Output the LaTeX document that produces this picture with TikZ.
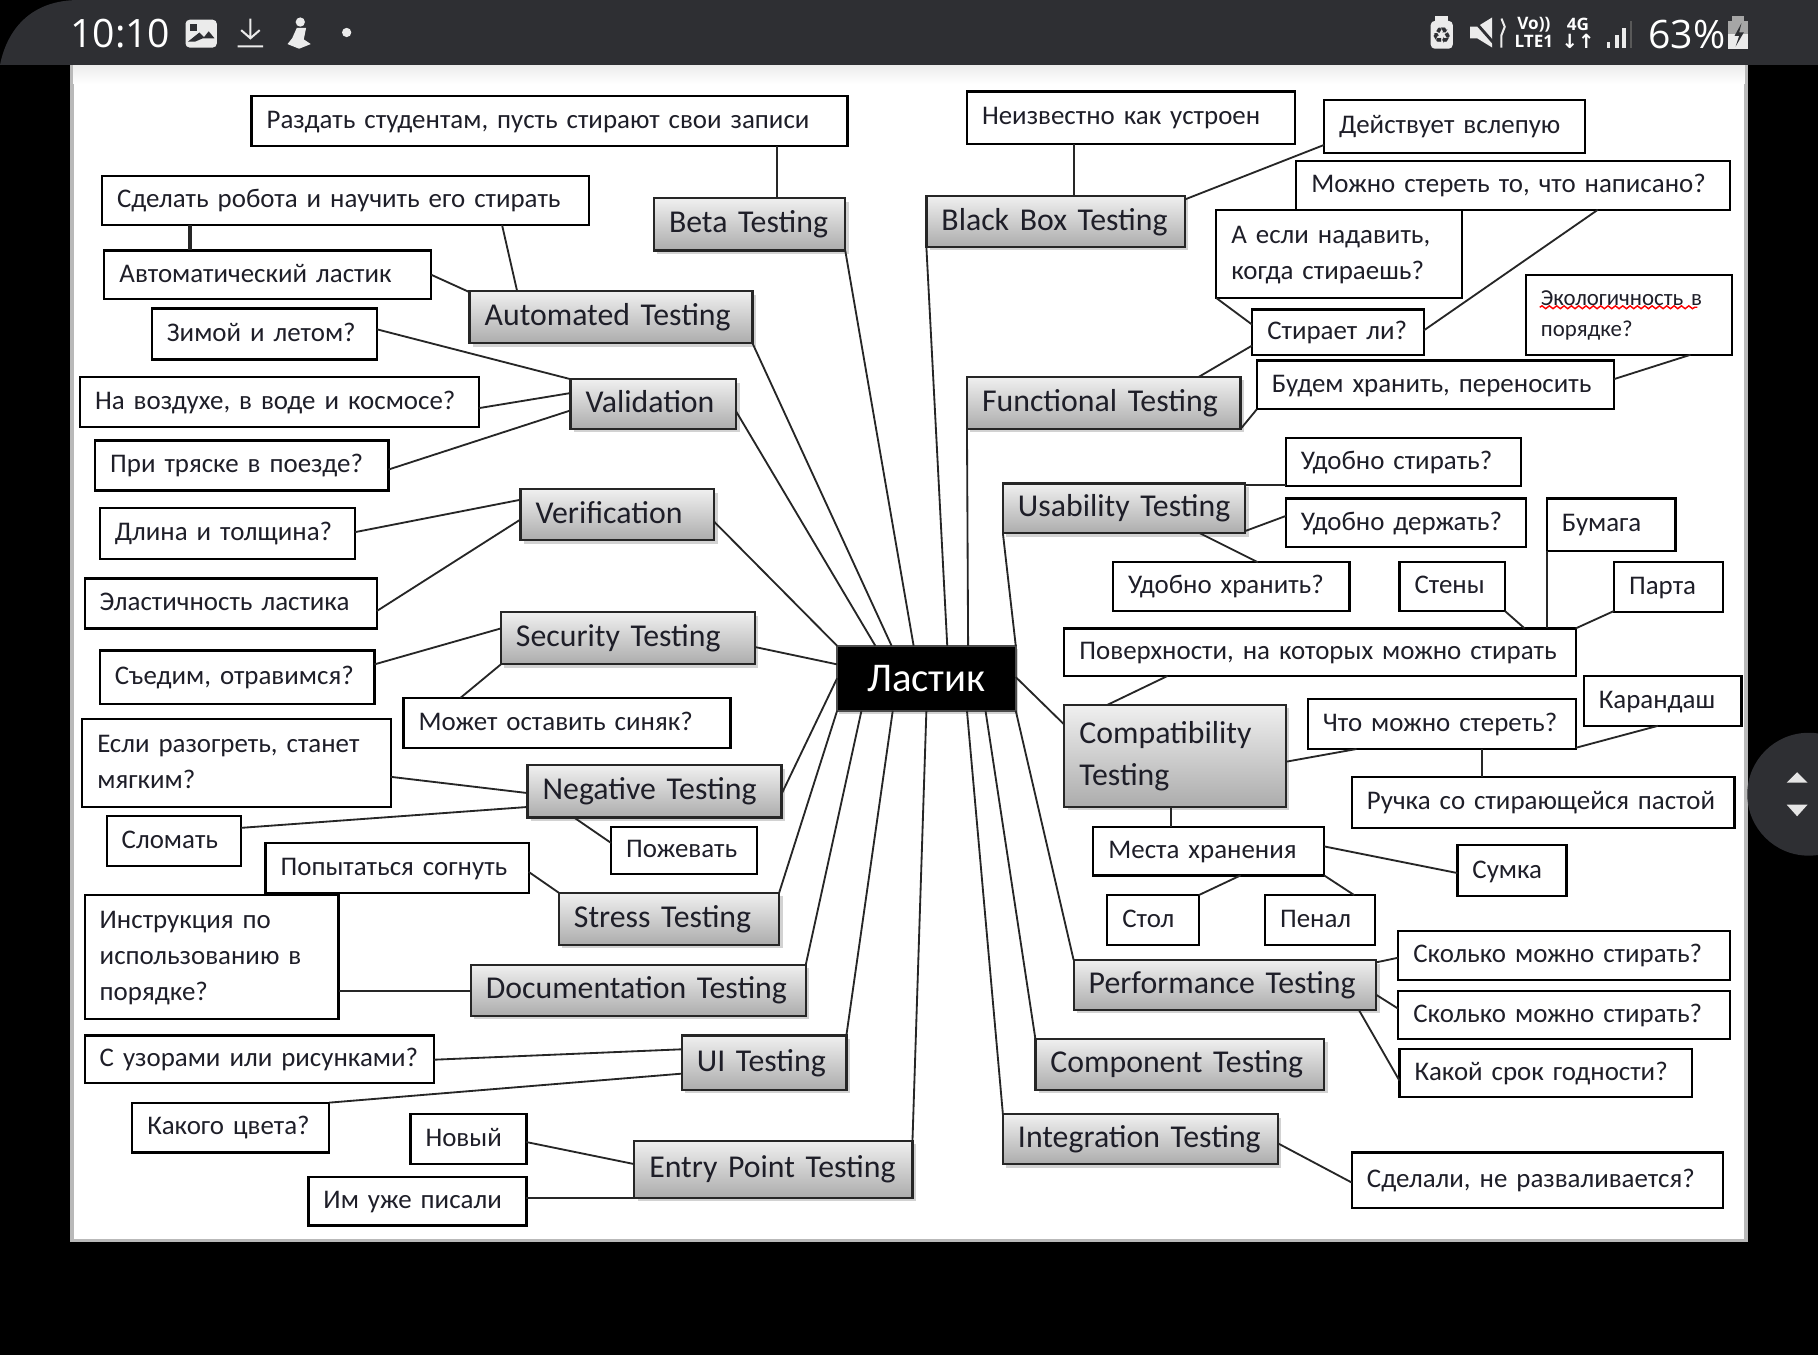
\documentclass[tikz,border=0pt]{standalone}
\usepackage{fontspec}
\setmainfont{Carlito}
\newfontfamily\statusfont{Open Sans}
\newfontfamily\symbolfont{DejaVu Sans}
\usetikzlibrary{shapes.geometric, positioning, shadows, decorations.pathmorphing}
\definecolor{barcolor}{HTML}{2E2F33}
\definecolor{inkcolor}{HTML}{1E1E28}
\tikzstyle{leaf} = [rectangle, anchor=north west, draw=black, fill=white, line width=0.55pt, inner xsep=0.13cm, inner ysep=0pt, outer sep=0pt, align=left, text=inkcolor, font=\fontsize{6.6}{8.9}\selectfont, execute at begin node=\strut, execute at end node=\strut]
\tikzstyle{topic} = [rectangle, anchor=north west, draw=black!85, top color=gray!12, bottom color=gray!65, line width=0.55pt, inner xsep=0.13cm, inner ysep=0pt, outer sep=0pt, align=left, text=inkcolor, font=\fontsize{7.8}{10.5}\selectfont, execute at begin node=\strut, execute at end node=\strut, drop shadow={shadow xshift=0.03cm, shadow yshift=-0.03cm, fill=gray!70}]
\tikzstyle{rootbox} = [rectangle, anchor=north west, fill=black, draw=black!70, line width=0.55pt, outer sep=0pt, inner sep=0pt, text=white, font=\fontsize{10}{12}\selectfont, drop shadow={shadow xshift=0.02cm, shadow yshift=-0.03cm, fill=gray!70}]
\tikzstyle{link} = [line width=0.45pt, draw=black!85]
\tikzstyle{status} = [text=white, inner sep=0pt, font=\statusfont\fontsize{9.6}{11}\selectfont]
\tikzstyle{tiny} = [text=white, inner sep=0pt, font=\statusfont\bfseries\fontsize{4.2}{5}\selectfont]
\tikzset{box/.style 2 args={text width=(#1-26)*0.01cm, minimum height=#2*0.01cm}}

\begin{document}
\begin{tikzpicture}[x=0.01cm, y=-0.01cm]
\useasboundingbox (0,0) rectangle (1568,1169);

% Screen
\fill [black] (0,0) rectangle (1568,1169);
\fill [white, draw=gray!55, line width=0.8pt] (62,56) rectangle (1506,1070);
\shade [top color=gray!15, bottom color=white] (63,56) rectangle (1505,72);
\fill [barcolor] (0,56) .. controls (6,26) and (26,0) .. (68,0) -- (1568,0) -- (1568,56) -- cycle;
\fill [barcolor] (1560,685) circle (53);
\fill [white!90!black] (1541,675) -- (1550,666) -- (1559,675) -- cycle;
\fill [white!90!black] (1541,694) -- (1559,694) -- (1550,704) -- cycle;

% Status bar, left
\node (clock) [status, anchor=west] at (60,29) {10:10};
\fill [white!92!black, rounded corners=1] (160,17) rectangle (187,41);
\fill [barcolor] (164,21) rectangle (170,27);
\fill [barcolor] (162,36) -- (172,28) -- (176,32) -- (180,27) -- (185,33) -- (175,33) -- (168,36) -- cycle;
\draw [white!92!black, line width=0.5pt] (216,16) -- (216,33) (208,26) -- (216,33) -- (224,26) (205,40) -- (227,40);
\fill [white!92!black] (259,19) circle (4);
\fill [white!92!black] (256,24) -- (264,24) -- (262,34) -- (268,38) -- (258,42) -- (248,38) -- (252,33) -- cycle;
\fill [white!92!black] (299,28) circle (4);

% Status bar, right
\fill [white!92!black, rounded corners=1] (1234,18) rectangle (1253,42);
\fill [white!92!black] (1238,14) rectangle (1249,18);
\node (recycle) [inner sep=0pt, text=barcolor, font=\symbolfont\fontsize{5.4}{6}\selectfont] at (1243.5,31) {♻};
\fill [white!92!black] (1268,23) -- (1274,23) -- (1287,15) -- (1287,41) -- (1274,33) -- (1268,33) -- cycle;
\draw [barcolor, line width=0.7pt] (1268,14) -- (1290,39);
\draw [white!92!black, line width=0.5pt, decorate, decoration={snake, amplitude=0.8, segment length=6.5}] (1295,16) -- (1295,41);
\node (volte) [tiny] at (1323,21) {Vo))};
\node (lte) [tiny] at (1323,36) {LTE1};
\node (fourg) [tiny] at (1361,21) {4G};
\node (updown) [tiny, font=\symbolfont\bfseries\fontsize{4.8}{5}\selectfont] at (1361,36) {↓↑};
\fill [white!92!black] (1386,36) rectangle (1389,41);
\fill [white!92!black] (1393,30) rectangle (1396,41);
\fill [white!92!black] (1399,24) rectangle (1402,41);
\fill [gray!70!black] (1406,18) rectangle (1408,41);
\node (percent) [status, anchor=west] at (1421,30) {63\%};
\fill [gray!70] (1490,18) rectangle (1508,29);
\fill [gray!70] (1494,14) rectangle (1504,18);
\fill [white!92!black] (1490,29) rectangle (1508,42);
\fill [barcolor] (1502,20) -- (1496,31) -- (1500,31) -- (1497,40) -- (1504,28) -- (1500,28) -- cycle;

% Centre
\node (root) [rootbox, minimum width=1.54cm, minimum height=0.56cm] at (722,557) {Ластик};

% Topics
\node (beta) [topic, box={165}{45}] at (564,171) {Beta Testing};
\node (automated) [topic, box={244}{45}] at (405,251) {Automated Testing};
\node (validation) [topic, box={143}{43}] at (492,327) {Validation};
\node (verification) [topic, box={167}{44}] at (449,422) {Verification};
\node (security) [topic, box={219}{45}] at (432,528) {Security Testing};
\node (negative) [topic, box={219}{45}] at (455,660) {Negative Testing};
\node (stress) [topic, box={190}{45}] at (482,770) {Stress Testing};
\node (documentation) [topic, box={289}{44}] at (406,832) {Documentation Testing};
\node (ui) [topic, box={142}{47}] at (588,893) {UI Testing};
\node (entry) [topic, box={240}{49}] at (547,984) {Entry Point Testing};
\node (blackbox) [topic, box={223}{44}] at (799,169) {Black Box Testing};
\node (functional) [topic, box={236}{45}] at (834,325) {Functional Testing};
\node (usability) [topic, box={209}{43}] at (865,417) {\mbox{Usability Testing}};
\node (compatibility) [topic, box={191}{88}] at (918,608) {Compatibility\\Testing};
\node (performance) [topic, box={261}{43}] at (926,828) {Performance Testing};
\node (component) [topic, box={249}{44}] at (893,896) {Component Testing};
\node (integration) [topic, box={237}{43}] at (865,961) {Integration Testing};

% Left leaves
\node (handout) [leaf, box={514}{43}] at (217,83) {Раздать студентам, пусть стирают свои записи};
\node (robot) [leaf, box={420}{42}] at (88,152) {Сделать робота и научить его стирать};
\node (eraser) [leaf, box={282}{42}] at (90,216) {Автоматический ластик};
\node (seasons) [leaf, box={194}{44}] at (131,266) {Зимой и летом?};
\node (media) [leaf, box={344}{43}] at (69,325) {На воздухе, в воде и космосе?};
\node (train) [leaf, box={253}{43}] at (82,380) {При тряске в поезде?};
\node (thickness) [leaf, box={220}{44}] at (86,438) {Длина и толщина?};
\node (elastic) [leaf, box={252}{43}] at (73,499) {Эластичность ластика};
\node (poison) [leaf, box={237}{46}] at (86,561) {Съедим, отравимся?};
\node (bruise) [leaf, box={282}{43}] at (348,602) {Может оставить синяк?};
\node (warm) [leaf, box={266}{76}] at (71,620) {Если разогреть, станет\\мягким?};
\node (breaks) [leaf, box={116}{43}] at (92,704) {Сломать};
\node (chew) [leaf, box={126}{41}] at (527,713) {Пожевать};
\node (bend) [leaf, box={227}{43}] at (229,727) {Попытаться согнуть};
\node (manual) [leaf, box={219}{107}] at (73,772) {Инструкция по\\использованию в\\порядке?};
\node (patterns) [leaf, box={301}{41}] at (73,893) {С узорами или рисунками?};
\node (colour) [leaf, box={170}{43}] at (114,951) {Какого цвета?};
\node (fresh) [leaf, box={100}{43}] at (354,961) {Новый};
\node (used) [leaf, box={188}{42}] at (266,1015) {Им уже писали};

% Right leaves
\node (unknown) [leaf, box={283}{45}] at (834,79) {Неизвестно как устроен};
\node (blind) [leaf, box={225}{46}] at (1142,86) {Действует вслепую};
\node (erase) [leaf, box={374}{42}] at (1118,139) {Можно стереть то, что написано?};
\node (press) [leaf, box={212}{76}] at (1049,181) {А если надавить,\\когда стираешь?};
\node (erases) [leaf, box={148}{39}] at (1080,267) {Стирает ли?};
\node (eco) [leaf, box={178}{69}, font=\fontsize{5.6}{7.7}\selectfont] at (1316,237) {Экологичность в\\порядке?};
\node (carry) [leaf, box={308}{42}] at (1084,311) {Будем хранить, переносить};
\node (easyerase) [leaf, box={203}{41}] at (1109,378) {Удобно стирать?};
\node (easyhold) [leaf, box={207}{42}] at (1109,430) {Удобно держать?};
\node (easykeep) [leaf, box={204}{42}] at (960,485) {Удобно хранить?};
\node (paper) [leaf, box={111}{45}] at (1334,430) {Бумага};
\node (walls) [leaf, box={91}{42}] at (1207,485) {Стены};
\node (desk) [leaf, box={94}{43}] at (1392,485) {Парта};
\node (surfaces) [leaf, box={441}{41}] at (918,542) {Поверхности, на которых можно стирать};
\node (whaterase) [leaf, box={231}{43}] at (1128,603) {Что можно стереть?};
\node (pencil) [leaf, box={136}{43}] at (1366,583) {Карандаш};
\node (pen) [leaf, box={330}{44}] at (1166,670) {Ручка со стирающейся пастой};
\node (places) [leaf, box={199}{42}] at (943,713) {Места хранения};
\node (bag) [leaf, box={94}{44}] at (1257,729) {Сумка};
\node (desktop) [leaf, box={79}{43}] at (955,772) {Стол};
\node (pencilcase) [leaf, box={95}{43}] at (1091,772) {Пенал};
\node (howmany) [leaf, box={286}{42}] at (1206,803) {Сколько можно стирать?};
\node (howmuch) [leaf, box={286}{41}] at (1206,855) {Сколько можно стирать?};
\node (expiry) [leaf, box={252}{41}] at (1207,905) {Какой срок годности?};
\node (assembled) [leaf, box={320}{48}] at (1166,994) {Сделали, не разваливается?};
\draw [red, line width=0.35pt, decorate, decoration={snake, amplitude=0.35, segment length=1.8}] (1328,265) -- (1464,265);

% Root links
\draw [link] ([shift={(66,0)}]root.north west) -- ([shift={(165,45)}]beta.north west);
\draw [link] ([shift={(47,0)}]root.north west) -- ([shift={(244,45)}]automated.north west);
\draw [link] ([shift={(33,0)}]root.north west) -- ([shift={(143,28)}]validation.north west);
\draw [link] (root.north west) -- ([shift={(167,28)}]verification.north west);
\draw [link] ([shift={(0,16)}]root.north west) -- ([shift={(219,30)}]security.north west);
\draw [link] ([shift={(0,28)}]root.north west) -- ([shift={(219,25)}]negative.north west);
\draw [link] (root.south west) -- ([shift={(190,0)}]stress.north west);
\draw [link] ([shift={(21,0)}]root.south west) -- ([shift={(289,0)}]documentation.north west);
\draw [link] ([shift={(48,0)}]root.south west) -- ([shift={(142,0)}]ui.north west);
\draw [link] ([shift={(77,0)}]root.south west) -- ([shift={(240,0)}]entry.north west);
\draw [link] ([shift={(112,0)}]root.south west) -- (integration.north west);
\draw [link] ([shift={(128,0)}]root.south west) -- (component.north west);
\draw [link] (root.south east) -- (performance.north west);
\draw [link] ([shift={(0,27)}]root.north east) -- ([shift={(0,17)}]compatibility.north west);
\draw [link] (root.north east) -- (usability.south west);
\draw [link] ([shift={(113,0)}]root.north west) -- (functional.south west);
\draw [link] ([shift={(95,0)}]root.north west) -- (blackbox.south west);

% Left links
\draw [link] ([shift={(453,43)}]handout.north west) -- ([shift={(106,0)}]beta.north west);
\draw [link] ([shift={(345,42)}]robot.north west) -- ([shift={(41,0)}]automated.north west);
\draw [link] ([shift={(282,21)}]eraser.north west) -- ([shift={(0,1)}]automated.north west);
\draw [link, line width=1pt] ([shift={(76,42)}]robot.north west) -- ([shift={(74,0)}]eraser.north west);
\draw [link] ([shift={(194,18)}]seasons.north west) -- (validation.north west);
\draw [link] ([shift={(344,27)}]media.north west) -- ([shift={(0,12)}]validation.north west);
\draw [link] ([shift={(253,25)}]train.north west) -- ([shift={(0,27)}]validation.north west);
\draw [link] ([shift={(220,21)}]thickness.north west) -- ([shift={(0,9)}]verification.north west);
\draw [link] ([shift={(252,28)}]elastic.north west) -- ([shift={(0,26)}]verification.north west);
\draw [link] ([shift={(237,12)}]poison.north west) -- ([shift={(0,14)}]security.north west);
\draw [link] ([shift={(49,0)}]bruise.north west) -- ([shift={(0,45)}]security.north west);
\draw [link] ([shift={(266,50)}]warm.north west) -- ([shift={(0,24)}]negative.north west);
\draw [link] ([shift={(116,10)}]breaks.north west) -- ([shift={(0,36)}]negative.north west);
\draw [link] ([shift={(0,14)}]chew.north west) -- ([shift={(40,45)}]negative.north west);
\draw [link] ([shift={(227,25)}]bend.north west) -- (stress.north west);
\draw [link] ([shift={(219,83)}]manual.north west) -- ([shift={(0,23)}]documentation.north west);
\draw [link] ([shift={(301,21)}]patterns.north west) -- ([shift={(0,12)}]ui.north west);
\draw [link] (colour.north east) -- ([shift={(0,33)}]ui.north west);
\draw [link] ([shift={(100,24)}]fresh.north west) -- ([shift={(0,20)}]entry.north west);
\draw [link] ([shift={(188,18)}]used.north west) -- ([shift={(0,49)}]entry.north west);

% Right links
\draw [link] ([shift={(92,45)}]unknown.north west) -- ([shift={(127,0)}]blackbox.north west);
\draw [link] ([shift={(0,39)}]blind.north west) -- ([shift={(223,3)}]blackbox.north west);
\draw [link] ([shift={(0,31)}]erases.north west) -- ([shift={(200,0)}]functional.north west);
\draw [link] ([shift={(0,76)}]press.north west) -- ([shift={(0,13)}]erases.north west);
\draw [link] ([shift={(260,42)}]erase.north west) -- ([shift={(148,18)}]erases.north west);
\draw [link] ([shift={(0,42)}]carry.north west) -- ([shift={(236,45)}]functional.north west);
\draw [link] ([shift={(142,69)}]eco.north west) -- ([shift={(308,16)}]carry.north west);
\draw [link] ([shift={(0,40)}]easyerase.north west) -- ([shift={(209,1)}]usability.north west);
\draw [link] ([shift={(0,15)}]easyhold.north west) -- ([shift={(209,41)}]usability.north west);
\draw [link] ([shift={(125,0)}]easykeep.north west) -- ([shift={(170,43)}]usability.north west);
\draw [link] ([shift={(89,41)}]surfaces.north west) -- ([shift={(37,0)}]compatibility.north west);
\draw [link] ([shift={(91,42)}]walls.north west) -- ([shift={(397,0)}]surfaces.north west);
\draw [link] ([shift={(0,45)}]paper.north west) -- ([shift={(416,0)}]surfaces.north west);
\draw [link] ([shift={(0,42)}]desk.north west) -- ([shift={(441,0)}]surfaces.north west);
\draw [link] ([shift={(42,43)}]whaterase.north west) -- ([shift={(191,49)}]compatibility.north west);
\draw [link] ([shift={(64,43)}]pencil.north west) -- ([shift={(231,42)}]whaterase.north west);
\draw [link] ([shift={(112,0)}]pen.north west) -- ([shift={(150,43)}]whaterase.north west);
\draw [link] ([shift={(67,0)}]places.north west) -- ([shift={(92,88)}]compatibility.north west);
\draw [link] ([shift={(0,24)}]bag.north west) -- ([shift={(199,17)}]places.north west);
\draw [link] ([shift={(79,0)}]desktop.north west) -- ([shift={(127,42)}]places.north west);
\draw [link] ([shift={(77,0)}]pencilcase.north west) -- ([shift={(199,42)}]places.north west);
\draw [link] ([shift={(0,23)}]howmany.north west) -- ([shift={(261,2)}]performance.north west);
\draw [link] ([shift={(0,15)}]howmuch.north west) -- ([shift={(261,30)}]performance.north west);
\draw [link] ([shift={(0,27)}]expiry.north west) -- ([shift={(246,43)}]performance.north west);
\draw [link] ([shift={(0,26)}]assembled.north west) -- ([shift={(237,25)}]integration.north west);

\end{tikzpicture}
\end{document}
